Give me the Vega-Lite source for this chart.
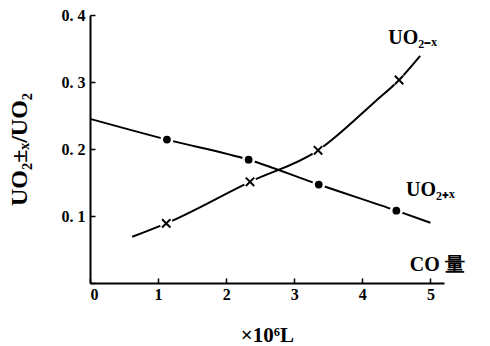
{
  "$schema": "https://vega.github.io/schema/vega-lite/v6.json",
  "width": 354,
  "height": 268,
  "autosize": {"type": "none"},
  "padding": {"left": 90, "top": 15, "right": 46, "bottom": 63},
  "background": "white",
  "config": {
    "view": {"stroke": null},
    "font": "Liberation Serif",
    "axis": {"grid": false, "domainColor": "black", "domainWidth": 2, "tickColor": "black", "tickWidth": 1.5, "labelFont": "Liberation Serif", "labelFontWeight": "bold", "labelFontSize": 16, "labelColor": "black", "titleFont": "Liberation Serif", "titleFontWeight": "bold", "titleColor": "black"}
  },
  "datasets": {
    "curves": [
      {"series": "plus", "x": 0.0, "y": 0.245},
      {"series": "plus", "x": 1.13, "y": 0.214},
      {"series": "plus", "x": 2.33, "y": 0.184},
      {"series": "plus", "x": 3.36, "y": 0.147},
      {"series": "plus", "x": 4.5, "y": 0.108},
      {"series": "plus", "x": 5.0, "y": 0.09},
      {"series": "minus", "x": 0.62, "y": 0.069},
      {"series": "minus", "x": 1.12, "y": 0.089},
      {"series": "minus", "x": 2.35, "y": 0.151},
      {"series": "minus", "x": 3.35, "y": 0.198},
      {"series": "minus", "x": 4.19, "y": 0.271},
      {"series": "minus", "x": 4.54, "y": 0.303},
      {"series": "minus", "x": 4.85, "y": 0.339}
    ],
    "markers": [
      {"series": "plus", "x": 1.13, "y": 0.214},
      {"series": "plus", "x": 2.33, "y": 0.184},
      {"series": "plus", "x": 3.36, "y": 0.147},
      {"series": "plus", "x": 4.5, "y": 0.108},
      {"series": "minus", "x": 1.12, "y": 0.089},
      {"series": "minus", "x": 2.35, "y": 0.151},
      {"series": "minus", "x": 3.35, "y": 0.198},
      {"series": "minus", "x": 4.54, "y": 0.303}
    ],
    "labels": [
      {"text": "UO₂₋ₓ", "x": 4.74, "y": 0.366},
      {"text": "UO₂₊ₓ", "x": 5.0, "y": 0.139},
      {"text": "CO 量", "x": 5.1, "y": 0.027}
    ]
  },
  "layer": [
    {
      "data": {"name": "curves"},
      "mark": {"type": "line", "interpolate": "monotone", "color": "black", "strokeWidth": 2},
      "encoding": {
        "x": {"field": "x", "type": "quantitative", "scale": {"domain": [0, 5.2], "nice": false},
          "axis": {"values": [0, 1, 2, 3, 4, 5], "tickSize": -5, "labelPadding": 8, "labelFontSize": 16, "title": "×10⁶L", "titleFontSize": 21, "titlePadding": 22, "format": "d"}},
        "y": {"field": "y", "type": "quantitative", "scale": {"domain": [0, 0.4], "nice": false},
          "axis": {"values": [0, 0.1, 0.2, 0.3, 0.4], "tickSize": -5, "labelPadding": 10, "labelFontSize": 16, "labelExpr": "datum.value == 0 ? '' : replace(format(datum.value, '.1f'), '.', '. ')", "title": "UO₂±ₓ/UO₂", "titleFontSize": 24, "titlePadding": 30}},
        "detail": {"field": "series"}
      }
    },
    {
      "data": {"name": "markers"},
      "mark": {"type": "point", "shape": "circle", "filled": true, "color": "white", "size": 170, "opacity": 1},
      "encoding": {
        "x": {"field": "x", "type": "quantitative"},
        "y": {"field": "y", "type": "quantitative"}
      }
    },
    {
      "data": {"name": "markers"},
      "transform": [{"filter": "datum.series == 'plus'"}],
      "mark": {"type": "point", "shape": "circle", "filled": true, "color": "black", "size": 60, "opacity": 1},
      "encoding": {
        "x": {"field": "x", "type": "quantitative"},
        "y": {"field": "y", "type": "quantitative"}
      }
    },
    {
      "data": {"name": "markers"},
      "transform": [{"filter": "datum.series == 'minus'"}],
      "mark": {"type": "point", "shape": "M-1,-1L1,1M-1,1L1,-1", "filled": false, "color": "black", "strokeWidth": 2, "size": 70, "opacity": 1},
      "encoding": {
        "x": {"field": "x", "type": "quantitative"},
        "y": {"field": "y", "type": "quantitative"}
      }
    },
    {
      "data": {"name": "labels"},
      "mark": {"type": "text", "font": "Liberation Serif", "fontWeight": "bold", "fontSize": 20, "color": "black", "align": "center", "baseline": "middle"},
      "encoding": {
        "x": {"field": "x", "type": "quantitative"},
        "y": {"field": "y", "type": "quantitative"},
        "text": {"field": "text"}
      }
    }
  ]
}
